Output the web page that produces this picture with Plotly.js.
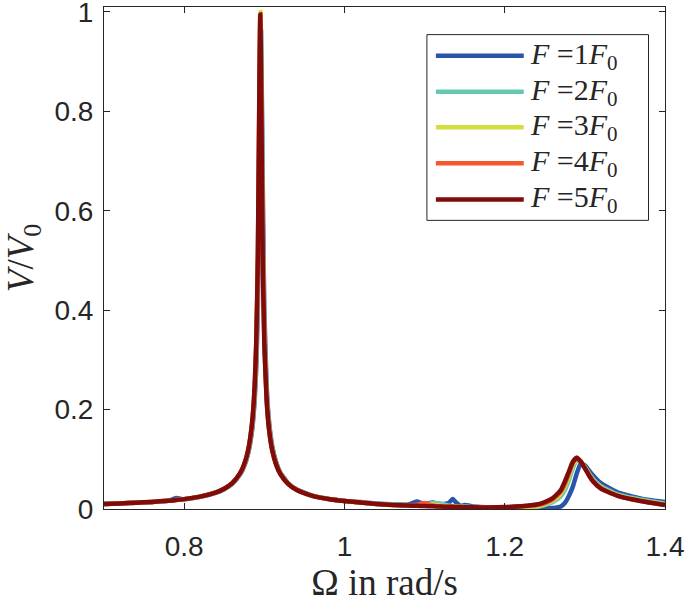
<!DOCTYPE html>
<html>
<head>
<meta charset="utf-8">
<script src="https://cdn.plot.ly/plotly-3.0.1.min.js"></script>
<style>
    html, body { margin: 0; padding: 0; background: #ffffff; }
    #resonance_plot { width: 685px; height: 607px; }
</style>
</head>
<body>
<div id="resonance_plot"></div>
<script>
// excitation frequency Omega (rad/s)
var omega =
[
    0.70, 0.72, 0.74, 0.76, 0.78, 0.79, 0.80, 0.82, 0.84, 0.85,
    0.86, 0.87, 0.875, 0.88, 0.885, 0.888, 0.89, 0.892, 0.894, 0.895,
    0.896, 0.898, 0.90, 0.903, 0.906, 0.91, 0.915, 0.92, 0.93, 0.94,
    0.96, 0.98, 1.00, 1.02, 1.04, 1.06, 1.08, 1.09, 1.10, 1.11,
    1.12, 1.13, 1.135, 1.14, 1.145, 1.15, 1.155, 1.16, 1.18, 1.20,
    1.22, 1.24, 1.25, 1.26, 1.27, 1.275, 1.28, 1.285, 1.29, 1.295,
    1.30, 1.305, 1.31, 1.32, 1.34, 1.36, 1.38, 1.40
];

// V / V0 for each force level
var v_F1 =
[
    0.0102, 0.0113, 0.0125, 0.0142, 0.0165, 0.022, 0.0197, 0.0245, 0.0329, 0.0398,
    0.0506, 0.0697, 0.0860, 0.1126, 0.161, 0.219, 0.286, 0.409, 0.667, 0.872,
    0.96, 0.667, 0.407, 0.246, 0.175, 0.126, 0.093, 0.0734, 0.0515, 0.0396,
    0.0269, 0.0203, 0.0162, 0.014, 0.011, 0.0095, 0.009, 0.015, 0.010, 0.013,
    0.009, 0.012, 0.020, 0.012, 0.006, 0.008, 0.007, 0.005, 0.003, 0.0012,
    0.0005, 0.0005, 0.001, 0.002, 0.005, 0.012, 0.026, 0.045, 0.072, 0.092,
    0.088, 0.078, 0.068, 0.052, 0.034, 0.025, 0.018, 0.014
];
var v_F2 =
[
    0.0102, 0.0113, 0.0125, 0.0142, 0.0165, 0.0181, 0.0198, 0.0247, 0.0332, 0.0403,
    0.0513, 0.071, 0.088, 0.116, 0.169, 0.233, 0.311, 0.46, 0.77, 0.95,
    0.93, 0.59, 0.37, 0.231, 0.167, 0.121, 0.091, 0.072, 0.0508, 0.0391,
    0.0267, 0.0202, 0.0162, 0.013, 0.010, 0.0085, 0.0075, 0.007, 0.008, 0.012,
    0.011, 0.007, 0.006, 0.005, 0.005, 0.0045, 0.0042, 0.004, 0.003, 0.002,
    0.002, 0.004, 0.008, 0.014, 0.026, 0.038, 0.058, 0.082, 0.098, 0.096,
    0.085, 0.072, 0.061, 0.046, 0.030, 0.022, 0.016, 0.011
];
var v_F3 =
[
    0.0103, 0.0113, 0.0126, 0.0143, 0.0166, 0.0181, 0.0199, 0.0248, 0.0334, 0.0406,
    0.0517, 0.0718, 0.089, 0.118, 0.173, 0.24, 0.325, 0.49, 0.83, 1.0,
    0.90, 0.55, 0.35, 0.224, 0.163, 0.119, 0.0895, 0.0713, 0.0505, 0.0389,
    0.0266, 0.0201, 0.0161, 0.013, 0.010, 0.008, 0.0072, 0.0068, 0.0075, 0.009,
    0.007, 0.005, 0.0048, 0.0045, 0.0042, 0.004, 0.0038, 0.0037, 0.0032, 0.003,
    0.0035, 0.006, 0.010, 0.017, 0.031, 0.045, 0.066, 0.089, 0.101, 0.096,
    0.084, 0.070, 0.058, 0.043, 0.028, 0.020, 0.014, 0.009
];
var v_F4 =
[
    0.0103, 0.0113, 0.0126, 0.0143, 0.0166, 0.0181, 0.0199, 0.0249, 0.0335, 0.0407,
    0.0519, 0.0722, 0.0897, 0.1185, 0.175, 0.244, 0.332, 0.50, 0.85, 0.99,
    0.88, 0.53, 0.342, 0.22, 0.161, 0.118, 0.0889, 0.0709, 0.0503, 0.0388,
    0.0265, 0.0201, 0.0161, 0.013, 0.010, 0.008, 0.007, 0.008, 0.012, 0.007,
    0.005, 0.0045, 0.0043, 0.004, 0.0038, 0.0036, 0.0035, 0.0034, 0.0032, 0.0035,
    0.005, 0.008, 0.012, 0.020, 0.035, 0.050, 0.071, 0.093, 0.103, 0.095,
    0.083, 0.069, 0.057, 0.042, 0.027, 0.019, 0.013, 0.008
];
var v_F5 =
[
    0.0103, 0.0113, 0.0126, 0.0143, 0.0166, 0.0181, 0.0199, 0.0249, 0.0335, 0.0408,
    0.0521, 0.0726, 0.0904, 0.1194, 0.177, 0.248, 0.338, 0.513, 0.874, 0.995,
    0.874, 0.511, 0.335, 0.217, 0.159, 0.117, 0.0883, 0.0705, 0.0501, 0.0387,
    0.0265, 0.0201, 0.0161, 0.013, 0.010, 0.008, 0.007, 0.0065, 0.006, 0.0055,
    0.005, 0.0045, 0.0043, 0.004, 0.0038, 0.0036, 0.0035, 0.0034, 0.0032, 0.0038,
    0.0055, 0.009, 0.014, 0.022, 0.038, 0.055, 0.075, 0.095, 0.103, 0.095,
    0.082, 0.068, 0.056, 0.041, 0.027, 0.019, 0.013, 0.008
];

var series_values = [ v_F1, v_F2, v_F3, v_F4, v_F5 ];
var series_names = [ '<i>F</i> =1<i>F</i><sub>0</sub>', '<i>F</i> =2<i>F</i><sub>0</sub>', '<i>F</i> =3<i>F</i><sub>0</sub>', '<i>F</i> =4<i>F</i><sub>0</sub>', '<i>F</i> =5<i>F</i><sub>0</sub>' ];
var series_colors = [ '#2a54a9', '#63c8b4', '#d3de3f', '#f4582f', '#800b0b' ];

var x_ticks = [ 0.8, 1, 1.2, 1.4 ];
var y_ticks = [ 0, 0.2, 0.4, 0.6, 0.8, 1 ];

var LINE_WIDTH = 4.5;
var axis_color = '#262626';
var serif = 'Liberation Serif, DejaVu Serif, serif';
var sans = 'Liberation Sans, Arial, sans-serif';

var data = [];
for( var i = 0; i < series_values.length; i++ )
{
    data.push(
        {
            type: 'scatter',
            mode: 'lines',
            name: series_names[ i ],
            x: omega,
            y: series_values[ i ],
            line:
            {
                color: series_colors[ i ],
                width: LINE_WIDTH,
                shape: 'spline',
                smoothing: 0.5
            },
            showlegend: false
        }
    );
}

// hand made legend box, matlab style with long line samples
var legend_box = { x0: 0.5756, x1: 0.9706, y0: 0.575, y1: 0.945 };
var legend_line = { x0: 0.5916, x1: 0.7482 };
var legend_text_x = 0.755;
var legend_rows = [ 0.903, 0.831, 0.7605, 0.6885, 0.6166 ];

var shapes =
[
    {
        type: 'rect',
        xref: 'paper',
        yref: 'paper',
        x0: legend_box.x0,
        x1: legend_box.x1,
        y0: legend_box.y0,
        y1: legend_box.y1,
        fillcolor: '#ffffff',
        line:
        {
            color: axis_color,
            width: 1
        }
    }
];
var annotations = [];
for( var i = 0; i < series_names.length; i++ )
{
    shapes.push(
        {
            type: 'line',
            xref: 'paper',
            yref: 'paper',
            x0: legend_line.x0,
            x1: legend_line.x1,
            y0: legend_rows[ i ],
            y1: legend_rows[ i ],
            line:
            {
                color: series_colors[ i ],
                width: LINE_WIDTH
            }
        }
    );
    annotations.push(
        {
            xref: 'paper',
            yref: 'paper',
            x: legend_text_x,
            y: legend_rows[ i ],
            xanchor: 'left',
            yanchor: 'middle',
            showarrow: false,
            text: series_names[ i ],
            font:
            {
                family: serif,
                size: 30,
                color: axis_color
            }
        }
    );
}

var layout =
{
    width: 685,
    height: 607,
    margin: { l: 104, r: 20, t: 7, b: 98 },
    paper_bgcolor: '#ffffff',
    plot_bgcolor: '#ffffff',
    showlegend: false,
    xaxis:
    {
        range: [ 0.7, 1.4 ],
        tickvals: x_ticks,
        ticktext: [ '0.8', '1', '1.2', '1.4' ],
        ticks: 'inside',
        ticklen: 6,
        tickcolor: axis_color,
        showline: true,
        linecolor: axis_color,
        linewidth: 1,
        mirror: 'ticks',
        showgrid: false,
        zeroline: false,
        ticklabelstandoff: 12,
        ticklabeloverflow: 'allow',
        tickfont: { family: sans, size: 28, color: axis_color },
        title:
        {
            text: '&#937; in rad/s',
            font: { family: serif, size: 37, color: axis_color },
            standoff: 0
        }
    },
    yaxis:
    {
        range: [ 0, 1.01 ],
        tickvals: y_ticks,
        ticktext: [ '0', '0.2', '0.4', '0.6', '0.8', '1' ],
        ticks: 'inside',
        ticklen: 6,
        tickcolor: axis_color,
        showline: true,
        linecolor: axis_color,
        linewidth: 1,
        mirror: 'ticks',
        showgrid: false,
        zeroline: false,
        ticklabelstandoff: 4,
        ticklabeloverflow: 'allow',
        tickfont: { family: sans, size: 28, color: axis_color },
        title:
        {
            text: '<i>V</i>/<i>V</i><sub>0</sub>',
            font: { family: serif, size: 37, color: axis_color },
            standoff: 11
        }
    },
    shapes: shapes,
    annotations: annotations
};

var config = { staticPlot: true, displayModeBar: false };

Plotly.newPlot( document.getElementById( 'resonance_plot' ), data, layout, config );
</script>
</body>
</html>
